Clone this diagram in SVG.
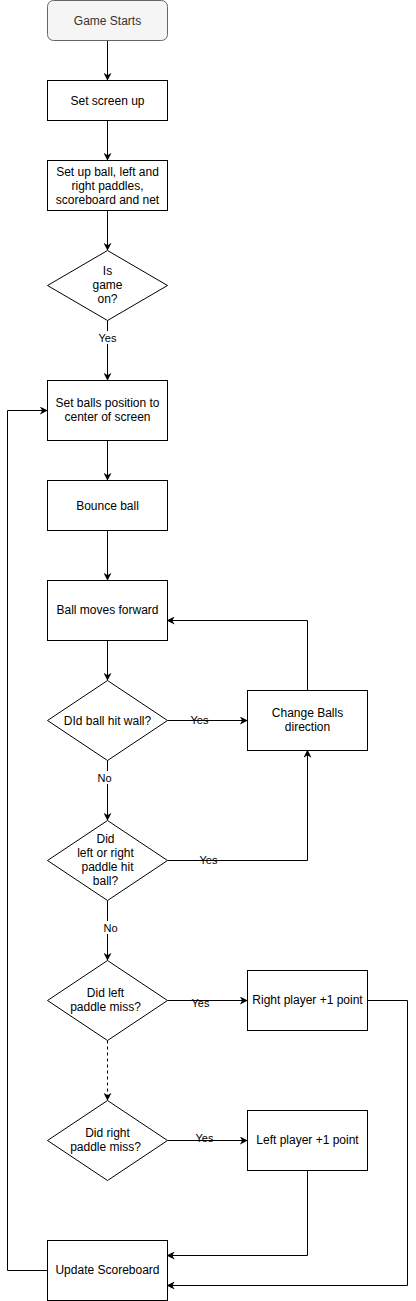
<svg xmlns="http://www.w3.org/2000/svg" width="416" height="1301" viewBox="0 0 416 1301">
<defs>
<marker id="arr" viewBox="0 0 10 10" refX="9" refY="5" markerWidth="8" markerHeight="8" markerUnits="userSpaceOnUse" orient="auto">
<path d="M0,0 L10,5 L0,10 L3,5 Z" fill="#000"/>
</marker>
<style>
.n{fill:#fff;stroke:#000;stroke-width:1}
.t{font-family:"Liberation Sans",Arial,sans-serif;font-size:12px;fill:#000;text-anchor:middle}
.l{font-family:"Liberation Sans",Arial,sans-serif;font-size:11px;fill:#000;text-anchor:middle}
.c{fill:none;stroke:#000;stroke-width:1;marker-end:url(#arr)}
.bg{fill:#fff}
</style>
</defs>
<rect width="416" height="1301" fill="#fff"/>
<g id="connectors">
<path class="c" d="M107.5,40.5 V80"/>
<path class="c" d="M107.5,120.5 V160"/>
<path class="c" d="M107.5,210.5 V250"/>
<path class="c" d="M107.5,320.5 V380"/>
<path class="c" d="M107.5,440.5 V480"/>
<path class="c" d="M107.5,530.5 V580"/>
<path class="c" d="M107.5,640.5 V680"/>
<path class="c" d="M107.5,760.5 V820"/>
<path class="c" d="M107.5,900.5 V960"/>
<path class="c" d="M107.5,1040.5 V1100" stroke-dasharray="3,3"/>
<path class="c" d="M167.5,720.5 H247"/>
<path class="c" d="M307.5,690.5 V620.5 H167.5"/>
<path class="c" d="M167.5,860.5 H307.5 V750.5"/>
<path class="c" d="M167.5,1000.5 H247"/>
<path class="c" d="M167.5,1140.5 H247"/>
<path class="c" d="M367.5,1000.5 H407.5 V1285.5 H167.5"/>
<path class="c" d="M307.5,1170.5 V1255.5 H167.5"/>
<path class="c" d="M47.5,1270.5 H7.5 V410.5 H47"/>
<rect class="bg" x="97" y="331" width="21" height="13"/>
<text class="l" x="107.5" y="342">Yes</text>
<text class="l" x="199.5" y="724">Yes</text>
<rect class="bg" x="97" y="771" width="17" height="13"/>
<text class="l" x="104.5" y="782">No</text>
<text class="l" x="208.5" y="864">Yes</text>
<rect class="bg" x="100" y="921" width="17" height="13"/>
<text class="l" x="110.5" y="932">No</text>
<text class="l" x="200.5" y="1007">Yes</text>
<text class="l" x="204.5" y="1142">Yes</text>
</g>
<g id="game-starts">
<rect x="47.5" y="0.5" width="120" height="40" rx="6" fill="#f5f5f5" stroke="#666"/>
<text class="t" x="107.5" y="24.5" style="fill:#333">Game Starts</text>
</g>
<g id="set-screen">
<rect class="n" x="47.5" y="80.5" width="120" height="40"/>
<text class="t" x="107.5" y="104.5">Set screen up</text>
</g>
<g id="setup-ball">
<rect class="n" x="47.5" y="160.5" width="120" height="50"/>
<text class="t" x="107.5" y="175.5">Set up ball, left and</text>
<text class="t" x="107.5" y="189.5">right paddles,</text>
<text class="t" x="107.5" y="203.5">scoreboard and net</text>
</g>
<g id="game-on">
<path class="n" d="M107.5,250.5 L167.5,285.5 L107.5,320.5 L47.5,285.5 Z"/>
<text class="t" x="107.5" y="275">Is</text>
<text class="t" x="107.5" y="289">game</text>
<text class="t" x="107.5" y="303">on?</text>
</g>
<g id="set-position">
<rect class="n" x="47.5" y="380.5" width="120" height="60"/>
<text class="t" x="107.5" y="407">Set balls position to</text>
<text class="t" x="107.5" y="421">center of screen</text>
</g>
<g id="bounce">
<rect class="n" x="47.5" y="480.5" width="120" height="50"/>
<text class="t" x="107.5" y="509.5">Bounce ball</text>
</g>
<g id="moves-forward">
<rect class="n" x="47.5" y="580.5" width="120" height="60"/>
<text class="t" x="107.5" y="613.5">Ball moves forward</text>
</g>
<g id="hit-wall">
<path class="n" d="M107.5,680.5 L167.5,720.5 L107.5,760.5 L47.5,720.5 Z"/>
<text class="t" x="107.5" y="724.5">DId ball hit wall?</text>
</g>
<g id="change-direction">
<rect class="n" x="247.5" y="690.5" width="120" height="60"/>
<text class="t" x="307.5" y="717">Change Balls</text>
<text class="t" x="307.5" y="731">direction</text>
</g>
<g id="paddle-hit">
<path class="n" d="M107.5,820.5 L167.5,860.5 L107.5,900.5 L47.5,860.5 Z"/>
<text class="t" x="105.5" y="843">Did</text>
<text class="t" x="105.5" y="857">left or right</text>
<text class="t" x="107.5" y="871">paddle hit</text>
<text class="t" x="105.5" y="885">ball?</text>
</g>
<g id="left-miss">
<path class="n" d="M107.5,960.5 L167.5,1000.5 L107.5,1040.5 L47.5,1000.5 Z"/>
<text class="t" x="105.5" y="997">Did left</text>
<text class="t" x="105.5" y="1011">paddle miss?</text>
</g>
<g id="right-point">
<rect class="n" x="247.5" y="970.5" width="120" height="60"/>
<text class="t" x="307.5" y="1004">Right player +1 point</text>
</g>
<g id="right-miss">
<path class="n" d="M107.5,1100.5 L167.5,1140.5 L107.5,1180.5 L47.5,1140.5 Z"/>
<text class="t" x="107.5" y="1137">Did right</text>
<text class="t" x="105.5" y="1151">paddle miss?</text>
</g>
<g id="left-point">
<rect class="n" x="247.5" y="1110.5" width="120" height="60"/>
<text class="t" x="307.5" y="1144">Left player +1 point</text>
</g>
<g id="update-scoreboard">
<rect class="n" x="47.5" y="1240.5" width="120" height="60"/>
<text class="t" x="107.5" y="1274">Update Scoreboard</text>
</g>
</svg>
